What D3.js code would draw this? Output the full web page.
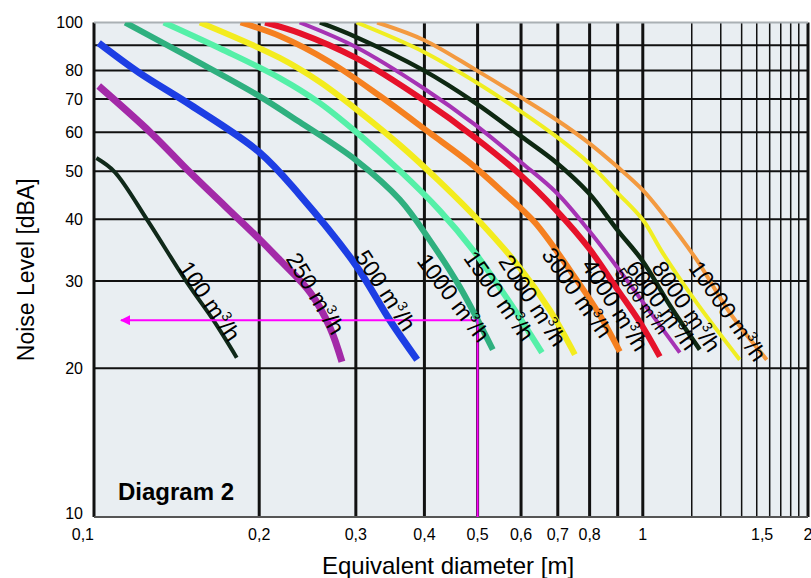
<!DOCTYPE html>
<html>
<head>
<meta charset="utf-8">
<script src="https://cdn.jsdelivr.net/npm/d3@7"></script>
<style>
  body { margin: 0; background: #fff; }
  svg { display: block; font-family: "Liberation Sans", Arial, Helvetica, sans-serif; }
</style>
</head>
<body>
<svg id="chart" width="811" height="578"></svg>
<script>
// flow rate of each curve, m3/h
const flows = [100, 250, 500, 1000, 1500, 2000, 3000, 4000, 5000, 6000, 8000, 10000];

// [equivalent diameter (m), noise level (dBA)]
const q100 = [[0.101, 53.2], [0.109, 49.9], [0.125, 39.9], [0.148, 29.7], [0.165, 25.0], [0.182, 21.0]];
const q250 = [[0.102, 74.4], [0.127, 59.8], [0.150, 49.6], [0.201, 36.3], [0.218, 33.1], [0.248, 28.4], [0.269, 24.2], [0.283, 20.6]];
const q500 = [[0.102, 90.9], [0.121, 79.1], [0.150, 68.1], [0.200, 54.7], [0.237, 44.8], [0.300, 32.3], [0.346, 25.0], [0.388, 20.8]];
const q1000 = [[0.114, 100], [0.150, 84.8], [0.200, 71.0], [0.237, 62.9], [0.300, 52.7], [0.361, 43.8], [0.409, 36.3], [0.464, 29.2], [0.533, 21.8]];
const q1500 = [[0.134, 100], [0.172, 88.0], [0.218, 77.2], [0.258, 68.7], [0.305, 59.2], [0.361, 50.1], [0.427, 41.6], [0.490, 34.7], [0.573, 27.1], [0.655, 21.5]];
const q2000 = [[0.156, 100], [0.218, 84.8], [0.258, 75.8], [0.305, 65.9], [0.361, 56.5], [0.427, 47.6], [0.505, 39.5], [0.597, 31.9], [0.677, 26.2], [0.752, 21.3]];
const q3000 = [[0.185, 100], [0.218, 93.9], [0.269, 83.2], [0.332, 71.0], [0.409, 59.8], [0.484, 52.0], [0.556, 45.4], [0.636, 39.4], [0.736, 31.6], [0.835, 25.6], [0.908, 21.6]];
const q4000 = [[0.205, 100], [0.237, 95.2], [0.300, 84.8], [0.398, 69.7], [0.496, 58.4], [0.602, 48.9], [0.697, 41.6], [0.797, 35.0], [0.900, 28.8], [0.987, 24.8], [1.074, 21.1]];
const q5000 = [[0.237, 100], [0.300, 89.2], [0.398, 73.7], [0.496, 62.0], [0.602, 52.0], [0.697, 45.2], [0.797, 38.0], [0.900, 31.9], [1.000, 27.2], [1.168, 21.5]];
const q6000 = [[0.258, 100], [0.300, 93.5], [0.398, 80.1], [0.496, 68.7], [0.602, 58.7], [0.697, 52.0], [0.797, 45.2], [0.900, 38.0], [1.000, 32.9], [1.120, 26.8], [1.270, 21.8]];
const q8000 = [[0.301, 100], [0.399, 87.2], [0.496, 75.8], [0.602, 65.9], [0.697, 58.7], [0.797, 52.0], [0.900, 45.2], [1.000, 39.9], [1.087, 34.2], [1.254, 27.1], [1.502, 20.8]];
const q10000 = [[0.328, 100], [0.399, 92.2], [0.496, 80.2], [0.602, 70.4], [0.697, 63.5], [0.797, 57.1], [0.900, 51.0], [1.000, 45.8], [1.087, 41.0], [1.254, 33.1], [1.440, 25.9], [1.682, 20.8]];
const curves = [q100, q250, q500, q1000, q1500, q2000, q3000, q4000, q5000, q6000, q8000, q10000];

// where each curve label starts [diameter, dBA]
const labelAt = [[0.142, 31.9], [0.223, 33.3], [0.298, 33.6], [0.386, 32.9], [0.470, 33.4], [0.544, 32.9],
                 [0.652, 33.9], [0.771, 32.3], [0.886, 31.1], [0.927, 31.9], [1.034, 31.9], [1.208, 31.9]];

// axis ticks
const xTickValues = [0.1, 0.2, 0.3, 0.4, 0.5, 0.6, 0.7, 0.8, 1, 1.65, 2];
const xTickLabels = ["0,1", "0,2", "0,3", "0,4", "0,5", "0,6", "0,7", "0,8", "1", "1,5", "2"];
const xMajorGrid = [0.1, 0.2, 0.3, 0.4, 0.5, 0.6, 0.7, 0.8, 0.9, 1, 2];
const xMinorGrid = [1.228, 1.387, 1.514, 1.613, 1.703, 1.784, 1.86, 1.924];
const yTickValues = [10, 20, 30, 40, 50, 60, 70, 80, 100];
const yGrid = [20, 30, 40, 50, 60, 70, 80, 90];

// example read-out: 0,5 m at 25 dBA
const example = [[0.5, 10], [0.5, 25], [0.112, 25]];

const colors = ["#10291a", "#a32aa8", "#1d3ee4", "#2fb07f", "#55f0a8", "#f3ec1e",
                "#f58020", "#e6122a", "#a633b4", "#0e2812", "#f0ee22", "#f39a40"];
const widths = [4, 7, 7, 6, 6, 6, 6, 6, 4, 4.5, 4, 4];
const angles = [56, 59, 57, 53, 55, 57, 55, 58, 54, 54, 56, 55];

const svg = d3.select("#chart");
const plotL = 94, plotR = 808, plotT = 22.5, plotB = 517;

const x = d3.scaleLog().domain([0.1, 2]).range([plotL, plotR]);
const y = d3.scaleLog().domain([10, 100]).range([plotB, plotT]);

const defs = svg.append("defs");
defs.append("clipPath").attr("id", "plot")
  .append("rect")
  .attr("x", plotL).attr("y", plotT)
  .attr("width", plotR - plotL).attr("height", plotB - plotT);

defs.append("marker")
  .attr("id", "arrow")
  .attr("viewBox", "0 0 10 10")
  .attr("refX", 9).attr("refY", 5)
  .attr("markerWidth", 5).attr("markerHeight", 5)
  .attr("markerUnits", "strokeWidth")
  .attr("orient", "auto")
  .append("path")
  .attr("d", "M0,0 L10,5 L0,10 z")
  .attr("fill", "#ff00ff");

// plot background
svg.append("rect")
  .attr("x", plotL).attr("y", plotT)
  .attr("width", plotR - plotL).attr("height", plotB - plotT)
  .attr("fill", "#e9eef2");

// grid
const grid = svg.append("g");
grid.selectAll(".hgrid").data(yGrid).enter().append("line")
  .attr("x1", plotL).attr("x2", plotR)
  .attr("y1", d => y(d)).attr("y2", d => y(d))
  .attr("stroke", "#111").attr("stroke-width", 2);

grid.selectAll(".vminor").data(xMinorGrid).enter().append("line")
  .attr("x1", d => x(d)).attr("x2", d => x(d))
  .attr("y1", plotT).attr("y2", plotB)
  .attr("stroke", "#111").attr("stroke-width", 1.5);

grid.selectAll(".vmajor").data(xMajorGrid).enter().append("line")
  .attr("x1", d => x(d)).attr("x2", d => x(d))
  .attr("y1", plotT).attr("y2", plotB)
  .attr("stroke", "#111").attr("stroke-width", 3);

grid.append("line")
  .attr("x1", plotL).attr("x2", plotR).attr("y1", y(100)).attr("y2", y(100))
  .attr("stroke", "#aab0b4").attr("stroke-width", 2);
grid.append("line")
  .attr("x1", plotL).attr("x2", plotR).attr("y1", y(10)).attr("y2", y(10))
  .attr("stroke", "#555").attr("stroke-width", 2);

// curves
const line = d3.line()
  .x(d => x(d[0]))
  .y(d => y(d[1]))
  .curve(d3.curveCatmullRom.alpha(0.5));

svg.append("g")
  .attr("clip-path", "url(#plot)")
  .selectAll("path")
  .data(curves)
  .enter().append("path")
  .attr("d", line)
  .attr("fill", "none")
  .attr("stroke", (d, i) => colors[i])
  .attr("stroke-width", (d, i) => widths[i])
  .attr("stroke-linejoin", "round");

// read-out example
svg.append("path")
  .attr("d", d3.line().x(d => x(d[0])).y(d => y(d[1]))(example))
  .attr("fill", "none")
  .attr("stroke", "#ff00ff")
  .attr("stroke-width", 2)
  .attr("marker-end", "url(#arrow)");

// curve labels
const labels = svg.append("g").selectAll("text")
  .data(flows)
  .enter().append("text")
  .attr("transform", (d, i) => `translate(${x(labelAt[i][0])},${y(labelAt[i][1])}) rotate(${angles[i]})`)
  .attr("font-size", d => d === 5000 ? 17 : 23)
  .attr("fill", "#000");
labels.append("tspan").text(d => d + " m");
labels.append("tspan")
  .attr("dy", d => d === 5000 ? -7 : -9)
  .attr("font-size", d => d === 5000 ? 11 : 14)
  .text("3");
labels.append("tspan")
  .attr("dy", d => d === 5000 ? 7 : 9)
  .text("/h");

// axes labels
svg.append("g").selectAll("text")
  .data(xTickValues)
  .enter().append("text")
  .attr("x", d => x(d))
  .attr("y", 540)
  .attr("text-anchor", (d, i) => i === 0 ? "end" : "middle")
  .attr("font-size", 16)
  .text((d, i) => xTickLabels[i]);

svg.append("g").selectAll("text")
  .data(yTickValues)
  .enter().append("text")
  .attr("x", 83)
  .attr("y", d => y(d))
  .attr("dy", d => d === 10 ? "0.1em" : "0.35em")
  .attr("text-anchor", "end")
  .attr("font-size", 16)
  .text(d => d);

svg.append("text")
  .attr("x", 448)
  .attr("y", 574)
  .attr("text-anchor", "middle")
  .attr("font-size", 24)
  .text("Equivalent diameter [m]");

svg.append("text")
  .attr("transform", `translate(34, ${(plotT + plotB) / 2}) rotate(-90)`)
  .attr("text-anchor", "middle")
  .attr("font-size", 23)
  .text("Noise Level [dBA]");

svg.append("text")
  .attr("x", 118)
  .attr("y", 500)
  .attr("font-size", 24)
  .attr("font-weight", "bold")
  .text("Diagram 2");
</script>
</body>
</html>
